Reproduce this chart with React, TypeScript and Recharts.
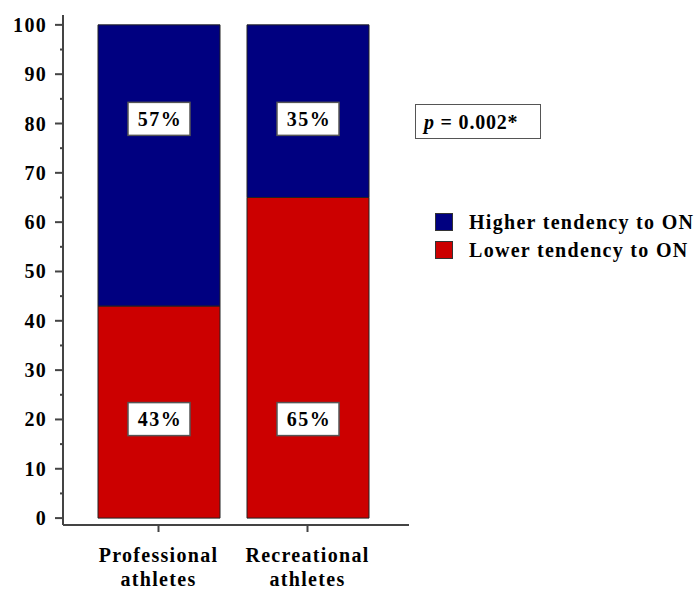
import { BarChart, Bar, XAxis, YAxis, Legend, LabelList } from "recharts";

const categories = ["Professional athletes", "Recreational athletes"];
const lowerTendency = [43, 65];
const higherTendency = [57, 35];
const yTicks = [0, 5, 10, 15, 20, 25, 30, 35, 40, 45, 50, 55, 60, 65, 70, 75, 80, 85, 90, 95, 100];
const pValue = "0.002*";

const data = categories.map((name, i) => ({
  name,
  lower: lowerTendency[i],
  higher: higherTendency[i],
}));

const FONT = "'Liberation Serif', 'Times New Roman', serif";
const AXIS = "#444";

function YTick(props: any) {
  const { x, y, payload } = props;
  const major = payload.value % 10 === 0;
  return (
    <g>
      <line x1={x - (major ? 8 : 3)} x2={x} y1={y} y2={y} stroke={AXIS} strokeWidth={2} />
      {major && (
        <text
          x={x - 16}
          y={y + 7}
          textAnchor="end"
          fontFamily={FONT}
          fontWeight="bold"
          fontSize={20}
          letterSpacing={1.3}
          fill="#000"
        >
          {payload.value}
        </text>
      )}
    </g>
  );
}

function XTick(props: any) {
  const { x, y, payload } = props;
  const lines = String(payload.value).split(" ");
  return (
    <g>
      <line x1={x} x2={x} y1={y} y2={y + 7} stroke={AXIS} strokeWidth={2} />
      {lines.map((ln, i) => (
        <text
          key={i}
          x={x}
          y={y + 37 + i * 24}
          textAnchor="middle"
          fontFamily={FONT}
          fontWeight="bold"
          fontSize={20}
          letterSpacing={1.3}
          fill="#000"
        >
          {ln}
        </text>
      ))}
    </g>
  );
}

// percent box, anchored to the top or bottom end of the segment
const boxLabel = (anchor: "top" | "bottom") => (props: any) => {
  const { x, y, width, height, value } = props;
  const top = Math.min(Number(y), Number(y) + Number(height));
  const bottom = Math.max(Number(y), Number(y) + Number(height));
  const cx = Number(x) + Number(width) / 2;
  const cy = anchor === "top" ? top + 94 : bottom - 99;
  return (
    <g>
      <rect x={cx - 31} y={cy - 16.5} width={62} height={33} fill="#fff" stroke="#555" strokeWidth={1.5} />
      <text
        x={cx + 1}
        y={cy + 7}
        textAnchor="middle"
        fontFamily={FONT}
        fontWeight="bold"
        fontSize={20}
        letterSpacing={1.5}
        fill="#000"
      >
        {value}%
      </text>
    </g>
  );
};

function LegendBox(props: any) {
  const items = props.payload || [];
  return (
    <div style={{ fontFamily: FONT }}>
      {items.map((it: any) => (
        <div key={it.value} style={{ display: "flex", alignItems: "center", height: 28 }}>
          <span
            style={{
              display: "inline-block",
              width: 16,
              height: 16,
              background: it.color,
              border: "1px solid #333",
            }}
          />
          <span
            style={{
              marginLeft: 16,
              fontSize: 20,
              fontWeight: "bold",
              letterSpacing: 1.3,
              color: "#000",
              whiteSpace: "nowrap",
            }}
          >
            {it.value}
          </span>
        </div>
      ))}
    </div>
  );
}

export default function App() {
  return (
    <div style={{ position: "absolute", left: 0, top: 0, width: 699, height: 592, background: "#fff" }}>
      <BarChart
        width={699}
        height={592}
        data={data}
        margin={{ top: 15, right: 290, bottom: 0, left: 0 }}
        barSize={122}
      >
        <XAxis
          dataKey="name"
          padding={{ left: 21, right: 27 }}
          tickSize={0}
          tickMargin={0}
          tickLine={false}
          height={67}
          axisLine={{ stroke: AXIS, strokeWidth: 2 }}
          tick={<XTick />}
          interval={0}
        />
        <YAxis
          type="number"
          domain={[-1.4, 102]}
          allowDataOverflow
          ticks={yTicks}
          interval={0}
          width={63}
          tickSize={0}
          tickMargin={0}
          tickLine={false}
          axisLine={{ stroke: AXIS, strokeWidth: 2 }}
          tick={<YTick />}
        />
        <Legend
          layout="vertical"
          align="center"
          verticalAlign="middle"
          wrapperStyle={{ left: 435, top: 208, width: 264, height: 56 }}
          content={<LegendBox />}
        />
        <Bar
          dataKey="lower"
          name="Lower tendency to ON"
          stackId="a"
          fill="#CC0000"
          stroke="#222"
          strokeWidth={1}
          isAnimationActive={false}
        >
          <LabelList dataKey="lower" content={boxLabel("bottom")} />
        </Bar>
        <Bar
          dataKey="higher"
          name="Higher tendency to ON"
          stackId="a"
          fill="#000080"
          stroke="#222"
          strokeWidth={1}
          isAnimationActive={false}
        >
          <LabelList dataKey="higher" content={boxLabel("top")} />
        </Bar>
      </BarChart>
      <div
        style={{
          position: "absolute",
          left: 415,
          top: 104,
          width: 126,
          height: 35,
          border: "1.5px solid #555",
          fontFamily: FONT,
          fontWeight: "bold",
          fontSize: 20,
          letterSpacing: 0.8,
          lineHeight: "35px",
          paddingLeft: 8,
          boxSizing: "border-box",
          whiteSpace: "nowrap",
        }}
      >
        <i>p</i> = {pValue}
      </div>
    </div>
  );
}
